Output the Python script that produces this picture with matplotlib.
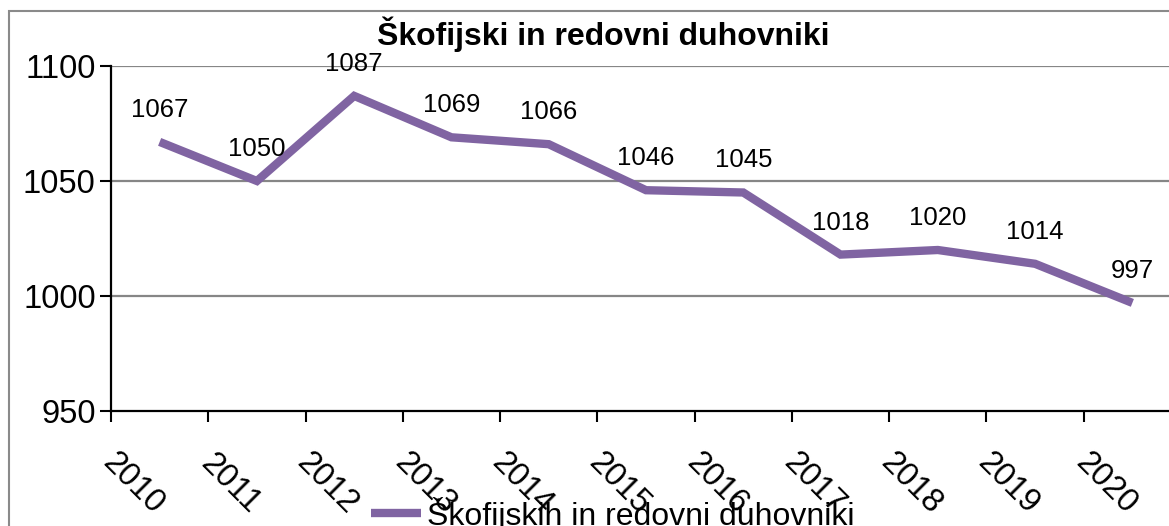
import matplotlib.pyplot as plt
from matplotlib.lines import Line2D
from matplotlib.patches import Rectangle
import matplotlib.transforms as mtransforms

plt.rcParams['font.family'] = ['Liberation Sans', 'DejaVu Sans']

# data
years = ['2010', '2011', '2012', '2013', '2014', '2015', '2016', '2017', '2018', '2019', '2020']
duhovniki = [1067, 1050, 1087, 1069, 1066, 1046, 1045, 1018, 1020, 1014, 997]
title = 'Škofijski in redovni duhovniki'
series_name = 'Škofijskih in redovni duhovniki'
purple = '#8064A2'

W, H = 1169, 526
fig = plt.figure(figsize=(W / 100, H / 100), dpi=100)

# axes run past the right edge (chart is cropped in the reference)
ax = fig.add_axes([111 / W, 1 - 411 / H, (1181 - 111) / W, (411 - 66) / H])
x = list(range(len(years)))
ax.plot(x, duhovniki, color=purple, lw=6, solid_joinstyle='miter', solid_capstyle='butt', zorder=3)

ax.set_xlim(-0.5, len(years) - 0.5)
ax.set_ylim(950, 1100)
ax.set_yticks([950, 1000, 1050, 1100])
ax.set_yticklabels(['950', '1000', '1050', '1100'], fontsize=23.5)
ax.set_xticks([i - 0.5 for i in range(len(years) + 1)])
ax.set_xticklabels([])
ax.tick_params(axis='y', length=8, width=1.5, pad=3, direction='out')
ax.tick_params(axis='x', length=8, width=1.5, direction='out')

for y in [1000, 1050, 1100]:
    ax.axhline(y, color='#868686', lw=1.6, zorder=1)

for s in ['top', 'right']:
    ax.spines[s].set_visible(False)
for s in ['left', 'bottom']:
    ax.spines[s].set_linewidth(1.6)
    ax.spines[s].set_zorder(4)

# data labels
for xi, v in zip(x, duhovniki):
    ax.annotate(str(v), (xi, v), xytext=(0, 18), textcoords='offset points',
                ha='center', va='baseline', fontsize=18.5, zorder=5)

# rotated year labels
off = mtransforms.ScaledTranslation(-26.7 / 100, -72.5 / 100, fig.dpi_scale_trans)
tr = mtransforms.blended_transform_factory(ax.transData, ax.transAxes) + off
for xi, lab in zip(x, years):
    ax.text(xi, 0, lab, transform=tr, rotation=-45, rotation_mode='anchor',
            ha='center', va='center', fontsize=23.5, clip_on=False)

fig.text(603 / W, 1 - 45 / H, title, ha='center', va='baseline',
         fontsize=23, fontweight='bold')

handle = Line2D([], [], color=purple, lw=6, solid_capstyle='butt')
fig.legend([handle], [series_name], loc='center left',
           bbox_to_anchor=(371 / W, 1 - 514 / H), frameon=False,
           fontsize=23, handlelength=1.55, handletextpad=0.2,
           borderpad=0, borderaxespad=0)

# outer chart border (only left/top visible in the crop)
fig.patches.append(Rectangle((9 / W, -0.1), 1.2, 1 - 11 / H + 0.1, transform=fig.transFigure,
                             fill=False, edgecolor='#8a8a8a', lw=1.5))

fig.savefig('out.png', dpi=100)
